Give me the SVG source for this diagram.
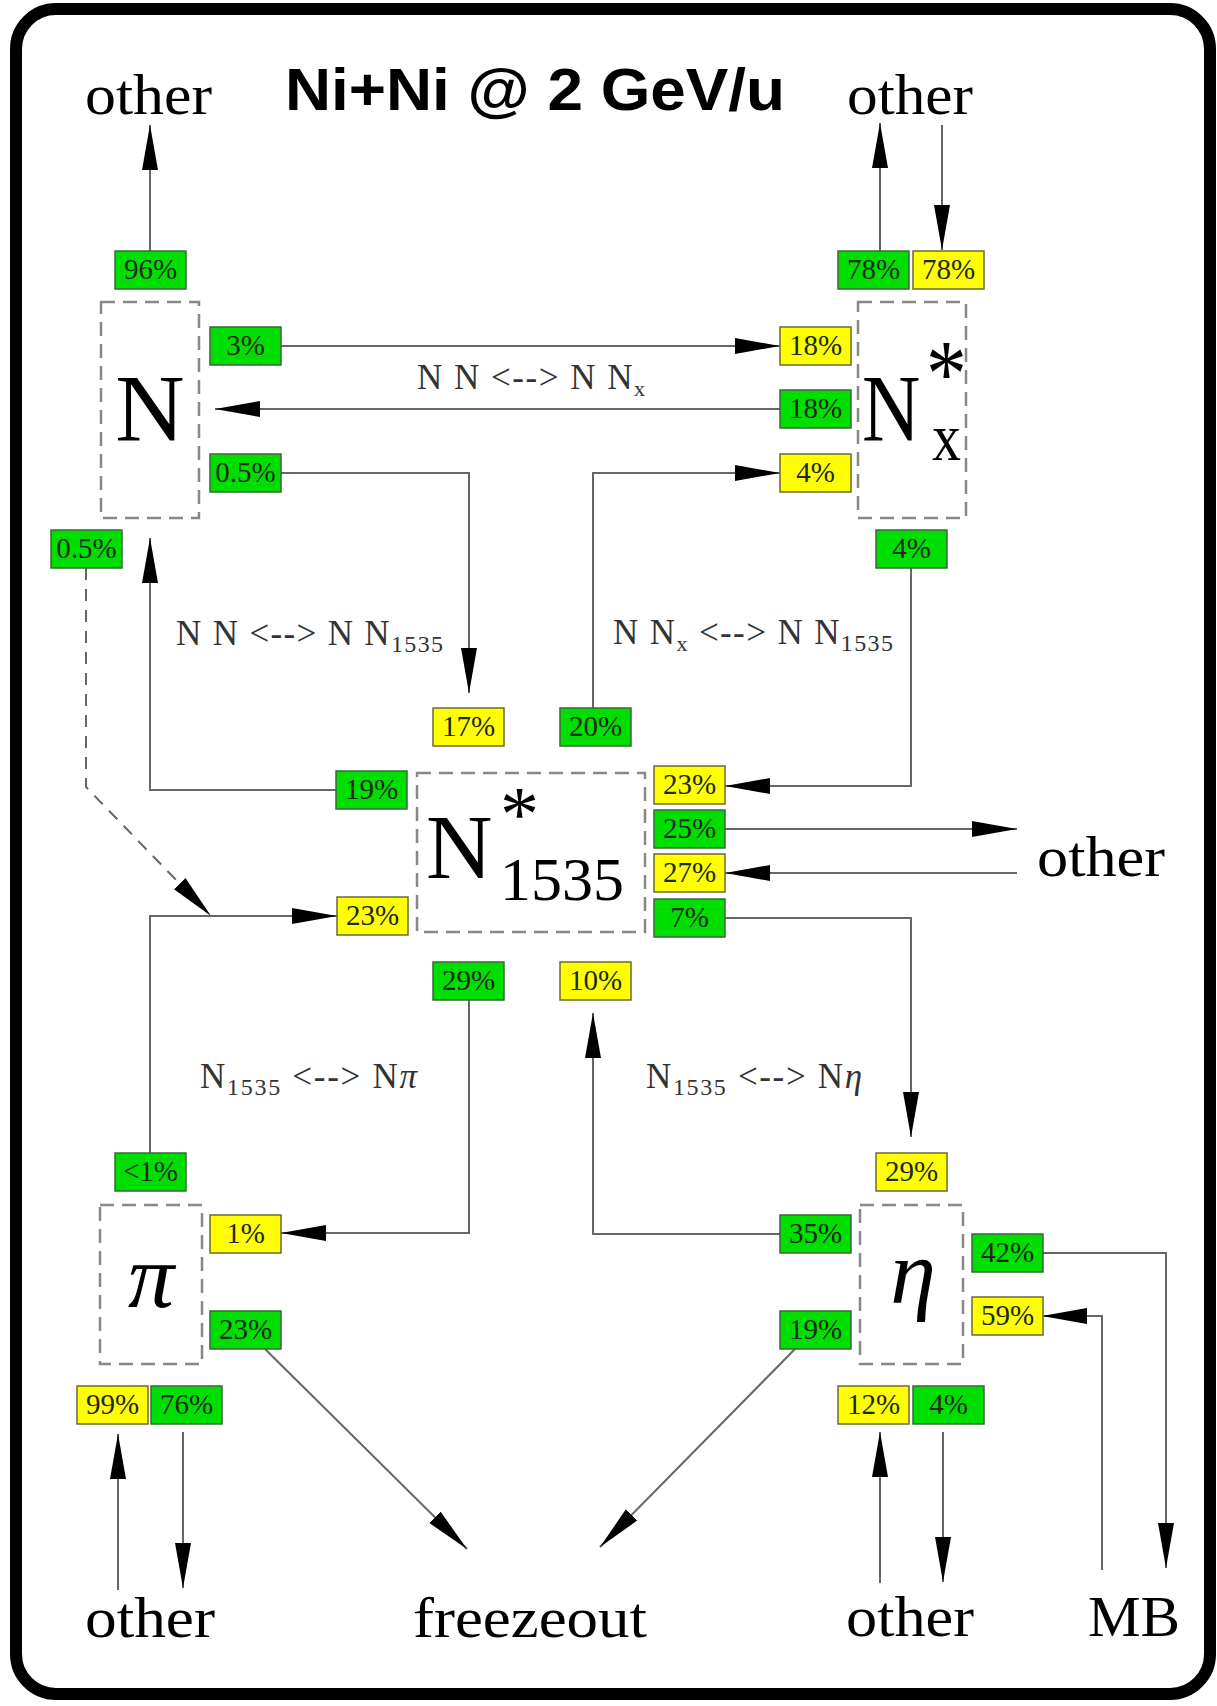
<svg xmlns="http://www.w3.org/2000/svg" width="1217" height="1706" viewBox="0 0 1217 1706">
<defs>
<style>
.bg{fill:#fff}
.frame{fill:none;stroke:#000;stroke-width:12}
.gb{fill:#00dd00;stroke:#3a6a3a;stroke-width:1.5}
.yb{fill:#ffff00;stroke:#6a6a3a;stroke-width:1.5}
.pt{font-family:"Liberation Serif","Times New Roman",serif;font-size:29px;fill:#1c2a1c;text-anchor:middle}
.nb{fill:none;stroke:#888;stroke-width:2.5;stroke-dasharray:14 8}
.big{font-family:"Liberation Serif","Times New Roman",serif;fill:#000}
.lbl{font-family:"Liberation Serif","Times New Roman",serif;font-size:35px;fill:#333}
.ot{font-family:"Liberation Serif","Times New Roman",serif;font-size:56px;fill:#000}
.c{fill:none;stroke:#666;stroke-width:2}
.cd{fill:none;stroke:#666;stroke-width:2;stroke-dasharray:12 9}
.title{font-family:"Comic Sans MS","Liberation Sans",sans-serif;font-weight:bold;font-size:60px;fill:#000}
</style>
<marker id="ah" markerUnits="userSpaceOnUse" markerWidth="46" markerHeight="18" refX="45" refY="9" orient="auto">
<path d="M0,1 L45,9 L0,17 Z" fill="#000"/>
</marker>
</defs>
<rect class="bg" x="0" y="0" width="1217" height="1706"/>
<rect class="frame" x="16" y="9" width="1194" height="1685" rx="40" ry="40"/>

<g id="title"><text class="title" x="285" y="110" textLength="500" lengthAdjust="spacingAndGlyphs">Ni+Ni @ 2 GeV/u</text></g>

<g id="connectors">
<path class="c" d="M150,251 V125" marker-end="url(#ah)"/>
<path class="c" d="M880,251 V123" marker-end="url(#ah)"/>
<path class="c" d="M942,125 V250" marker-end="url(#ah)"/>
<path class="c" d="M281,346 H780" marker-end="url(#ah)"/>
<path class="c" d="M780,409 H215" marker-end="url(#ah)"/>
<path class="c" d="M281,473 H469 V693" marker-end="url(#ah)"/>
<path class="c" d="M593,708 V473 H780" marker-end="url(#ah)"/>
<path class="c" d="M911,568 V786 H725" marker-end="url(#ah)"/>
<path class="c" d="M336,790 H150 V538" marker-end="url(#ah)"/>
<path class="cd" d="M86,568 V787 L211,916" marker-end="url(#ah)"/>
<path class="c" d="M150,1153 V916 H337" marker-end="url(#ah)"/>
<path class="c" d="M725,829 H1017" marker-end="url(#ah)"/>
<path class="c" d="M1017,873 H725" marker-end="url(#ah)"/>
<path class="c" d="M725,918 H911 V1137" marker-end="url(#ah)"/>
<path class="c" d="M469,1000 V1233 H281" marker-end="url(#ah)"/>
<path class="c" d="M780,1234 H593 V1013" marker-end="url(#ah)"/>
<path class="c" d="M265,1349 L467,1549" marker-end="url(#ah)"/>
<path class="c" d="M795,1349 L600,1547" marker-end="url(#ah)"/>
<path class="c" d="M1042,1253 H1166 V1568" marker-end="url(#ah)"/>
<path class="c" d="M1102,1570 V1316 H1042" marker-end="url(#ah)"/>
<path class="c" d="M118,1590 V1434" marker-end="url(#ah)"/>
<path class="c" d="M183,1432 V1588" marker-end="url(#ah)"/>
<path class="c" d="M880,1583 V1432" marker-end="url(#ah)"/>
<path class="c" d="M943,1432 V1582" marker-end="url(#ah)"/>
</g>

<g id="labels">
<text class="lbl" x="417" y="389" textLength="228">N N &lt;--&gt; N N<tspan font-size="22" dy="7">x</tspan></text>
<text class="lbl" x="176" y="645" textLength="267">N N &lt;--&gt; N N<tspan font-size="24" dy="7">1535</tspan></text>
<text class="lbl" x="613" y="644" textLength="280">N N<tspan font-size="22" dy="7">x</tspan><tspan dy="-7"> &lt;--&gt; N N</tspan><tspan font-size="24" dy="7">1535</tspan></text>
<text class="lbl" x="200" y="1088" textLength="217">N<tspan font-size="24" dy="7">1535</tspan><tspan dy="-7"> &lt;--&gt; N</tspan><tspan font-style="italic">π</tspan></text>
<text class="lbl" x="646" y="1088" textLength="216">N<tspan font-size="24" dy="7">1535</tspan><tspan dy="-7"> &lt;--&gt; N</tspan><tspan font-style="italic">η</tspan></text>
</g>

<g id="node-N">
<rect class="nb" x="101" y="302" width="98" height="216"/>
<text class="big" x="150" y="441" font-size="96" text-anchor="middle">N</text>
<rect class="gb" x="115" y="251" width="71" height="38"/><text class="pt" x="150.5" y="279">96%</text>
<rect class="gb" x="210" y="327" width="71" height="38"/><text class="pt" x="245.5" y="355">3%</text>
<rect class="gb" x="210" y="454" width="71" height="38"/><text class="pt" x="245.5" y="482">0.5%</text>
<rect class="gb" x="51" y="530" width="71" height="38"/><text class="pt" x="86.5" y="558">0.5%</text>
</g>

<g id="node-Nx">
<rect class="nb" x="858" y="302" width="108" height="216"/>
<text class="big" transform="translate(862,0) scale(0.85,1)" x="0" y="441" font-size="95">N<tspan font-size="68" dx="13.8" dy="19">x</tspan><tspan font-size="96" dx="-41" dy="-54">*</tspan></text>
<rect class="gb" x="838" y="251" width="71" height="38"/><text class="pt" x="873.5" y="279">78%</text>
<rect class="yb" x="913" y="251" width="71" height="38"/><text class="pt" x="948.5" y="279">78%</text>
<rect class="yb" x="780" y="327" width="71" height="38"/><text class="pt" x="815.5" y="355">18%</text>
<rect class="gb" x="780" y="390" width="71" height="38"/><text class="pt" x="815.5" y="418">18%</text>
<rect class="yb" x="780" y="454" width="71" height="38"/><text class="pt" x="815.5" y="482">4%</text>
<rect class="gb" x="876" y="530" width="71" height="38"/><text class="pt" x="911.5" y="558">4%</text>
</g>

<g id="node-N1535">
<rect class="nb" x="417" y="773" width="228" height="159"/>
<text class="big" x="426" y="878" font-size="92">N<tspan x="500" dy="22" font-size="62">1535</tspan><tspan x="500" dy="-60" font-size="78">*</tspan></text>
<rect class="yb" x="433" y="708" width="71" height="38"/><text class="pt" x="468.5" y="736">17%</text>
<rect class="gb" x="560" y="708" width="71" height="38"/><text class="pt" x="595.5" y="736">20%</text>
<rect class="gb" x="336" y="771" width="71" height="38"/><text class="pt" x="371.5" y="799">19%</text>
<rect class="yb" x="337" y="897" width="71" height="38"/><text class="pt" x="372.5" y="925">23%</text>
<rect class="yb" x="654" y="766" width="71" height="38"/><text class="pt" x="689.5" y="794">23%</text>
<rect class="gb" x="654" y="810" width="71" height="38"/><text class="pt" x="689.5" y="838">25%</text>
<rect class="yb" x="654" y="854" width="71" height="38"/><text class="pt" x="689.5" y="882">27%</text>
<rect class="gb" x="654" y="899" width="71" height="38"/><text class="pt" x="689.5" y="927">7%</text>
<rect class="gb" x="433" y="962" width="71" height="38"/><text class="pt" x="468.5" y="990">29%</text>
<rect class="yb" x="560" y="962" width="71" height="38"/><text class="pt" x="595.5" y="990">10%</text>
</g>

<g id="node-pi">
<rect class="nb" x="100" y="1205" width="102" height="159"/>
<text class="big" x="151" y="1307" font-size="92" font-style="italic" text-anchor="middle">π</text>
<rect class="gb" x="115" y="1153" width="71" height="38"/><text class="pt" x="150.5" y="1181">&lt;1%</text>
<rect class="yb" x="210" y="1215" width="71" height="38"/><text class="pt" x="245.5" y="1243">1%</text>
<rect class="gb" x="210" y="1311" width="71" height="38"/><text class="pt" x="245.5" y="1339">23%</text>
<rect class="yb" x="77" y="1386" width="71" height="38"/><text class="pt" x="112.5" y="1414">99%</text>
<rect class="gb" x="151" y="1386" width="71" height="38"/><text class="pt" x="186.5" y="1414">76%</text>
</g>

<g id="node-eta">
<rect class="nb" x="860" y="1205" width="103" height="159"/>
<text class="big" x="913" y="1303" font-size="92" font-style="italic" text-anchor="middle">η</text>
<rect class="yb" x="876" y="1153" width="71" height="38"/><text class="pt" x="911.5" y="1181">29%</text>
<rect class="gb" x="780" y="1215" width="71" height="38"/><text class="pt" x="815.5" y="1243">35%</text>
<rect class="gb" x="780" y="1311" width="71" height="38"/><text class="pt" x="815.5" y="1339">19%</text>
<rect class="gb" x="972" y="1234" width="71" height="38"/><text class="pt" x="1007.5" y="1262">42%</text>
<rect class="yb" x="972" y="1297" width="71" height="38"/><text class="pt" x="1007.5" y="1325">59%</text>
<rect class="yb" x="838" y="1386" width="71" height="38"/><text class="pt" x="873.5" y="1414">12%</text>
<rect class="gb" x="913" y="1386" width="71" height="38"/><text class="pt" x="948.5" y="1414">4%</text>
</g>

<g id="other-tl"><text class="ot" x="85" y="114" textLength="127" lengthAdjust="spacingAndGlyphs">other</text></g>
<g id="other-tr"><text class="ot" x="847" y="114" textLength="126" lengthAdjust="spacingAndGlyphs">other</text></g>
<g id="other-r"><text class="ot" x="1037" y="876" textLength="128" lengthAdjust="spacingAndGlyphs">other</text></g>
<g id="other-bl"><text class="ot" x="85" y="1637" textLength="130" lengthAdjust="spacingAndGlyphs">other</text></g>
<g id="freezeout"><text class="ot" x="413" y="1637" textLength="234" lengthAdjust="spacingAndGlyphs">freezeout</text></g>
<g id="other-br"><text class="ot" x="846" y="1636" textLength="128" lengthAdjust="spacingAndGlyphs">other</text></g>
<g id="MB"><text class="ot" x="1088" y="1636" textLength="92" lengthAdjust="spacingAndGlyphs">MB</text></g>
</svg>
